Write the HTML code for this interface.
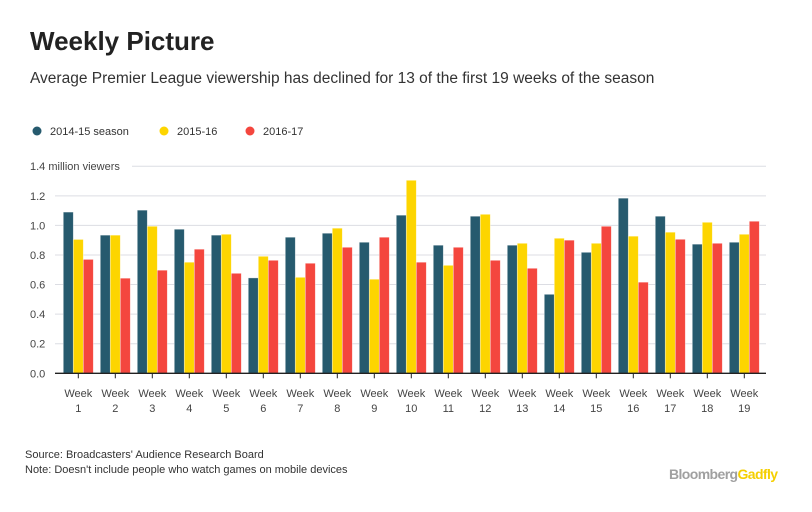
<!DOCTYPE html>
<html><head><meta charset="utf-8"><style>
body{margin:0;width:812px;height:512px;background:#fff;font-family:"Liberation Sans",sans-serif;overflow:hidden;position:relative}
.t{position:absolute;white-space:nowrap}
</style></head><body>
<div class="t" style="left:30px;top:26px;font-size:26px;font-weight:bold;color:#222">Weekly Picture</div>
<div class="t" style="left:30px;top:70px;font-size:15.5px;color:#333">Average Premier League viewership has declined for 13 of the first 19 weeks of the season</div>
<svg id="c" width="812" height="512" style="position:absolute;left:0;top:0"></svg>
<div class="t" style="left:25px;top:449px;font-size:11px;color:#333">Source: Broadcasters' Audience Research Board</div>
<div class="t" style="left:25px;top:464px;font-size:11px;color:#333">Note: Doesn't include people who watch games on mobile devices</div>
<div class="t" style="left:669px;top:466px;font-size:14px;font-weight:bold;letter-spacing:-0.6px;color:#a0a0a0">Bloomberg<span style="color:#f5cf00">Gadfly</span></div>
<script>
const categories=["1","2","3","4","5","6","7","8","9","10","11","12","13","14","15","16","17","18","19"];
const s2014=[1.09,0.934,1.103,0.974,0.934,0.645,0.92,0.947,0.886,1.069,0.866,1.062,0.866,0.534,0.818,1.184,1.062,0.873,0.886];
const s2015=[0.905,0.934,0.994,0.751,0.94,0.791,0.649,0.981,0.636,1.305,0.73,1.075,0.879,0.913,0.879,0.927,0.954,1.021,0.94];
const s2016=[0.77,0.643,0.697,0.839,0.676,0.764,0.744,0.852,0.92,0.751,0.852,0.764,0.71,0.9,0.994,0.616,0.906,0.879,1.028];
const yTicks=["0.0","0.2","0.4","0.6","0.8","1.0","1.2"];
const seriesNames=["2014-15 season","2015-16","2016-17"];
const colors=["#265a6e","#fdd500","#f4463e"];
const svg=document.getElementById('c');const NS="http://www.w3.org/2000/svg";
function mk(t,a,txt){const e=document.createElementNS(NS,t);for(const k in a)e.setAttribute(k,a[k]);if(txt!==undefined)e.textContent=txt;svg.appendChild(e);return e;}
const y0=373.3,pxPer=147.9,x0=78.3,step=37,bw=10;
const Y=v=>y0-v*pxPer;const X=i=>x0+i*step;
yTicks.forEach(t=>{const v=parseFloat(t);
 if(v>0){const g=mk('line',{x1:55,x2:766,y1:Y(v),y2:Y(v),stroke:'#dcdde3','stroke-width':1});}
 const l=mk('text',{x:30,y:Y(v)+4,'font-size':11,fill:'#444','font-family':'Liberation Sans'},t);
 });
const topGrid=mk('line',{x1:132,x2:766,y1:Y(1.4),y2:Y(1.4),stroke:'#dcdde3'});


const yt=mk('text',{x:30,y:Y(1.4)+4,'font-size':11,fill:'#444','font-family':'Liberation Sans'},'1.4 million viewers');

[s2014,s2015,s2016].forEach((s,k)=>s.forEach((v,i)=>{
 const r=mk('rect',{x:X(i)-15+k*10,y:Y(v),width:bw,height:y0-Y(v),fill:colors[k],stroke:'rgba(255,255,255,0.5)','stroke-width':0.7});
 }));
const ax=mk('line',{x1:55,x2:766,y1:y0,y2:y0,stroke:'#222','stroke-width':1.3});
categories.forEach((c,i)=>{
 const tk=mk('line',{x1:X(i),x2:X(i),y1:y0,y2:y0+5,stroke:'#222'});
 const a=mk('text',{x:X(i),y:397,'text-anchor':'middle','font-size':11,fill:'#444','font-family':'Liberation Sans'},'Week');
 const b=mk('text',{x:X(i),y:412,'text-anchor':'middle','font-size':11,fill:'#444','font-family':'Liberation Sans'},c);});
const lx=[37,164,250];
seriesNames.forEach((n,k)=>{
 const c=mk('circle',{cx:lx[k],cy:131,r:4.5,fill:colors[k]});
 const t=mk('text',{x:lx[k]+13,y:135,'font-size':11,fill:'#333','font-family':'Liberation Sans'},n);});
</script>
</body></html>
